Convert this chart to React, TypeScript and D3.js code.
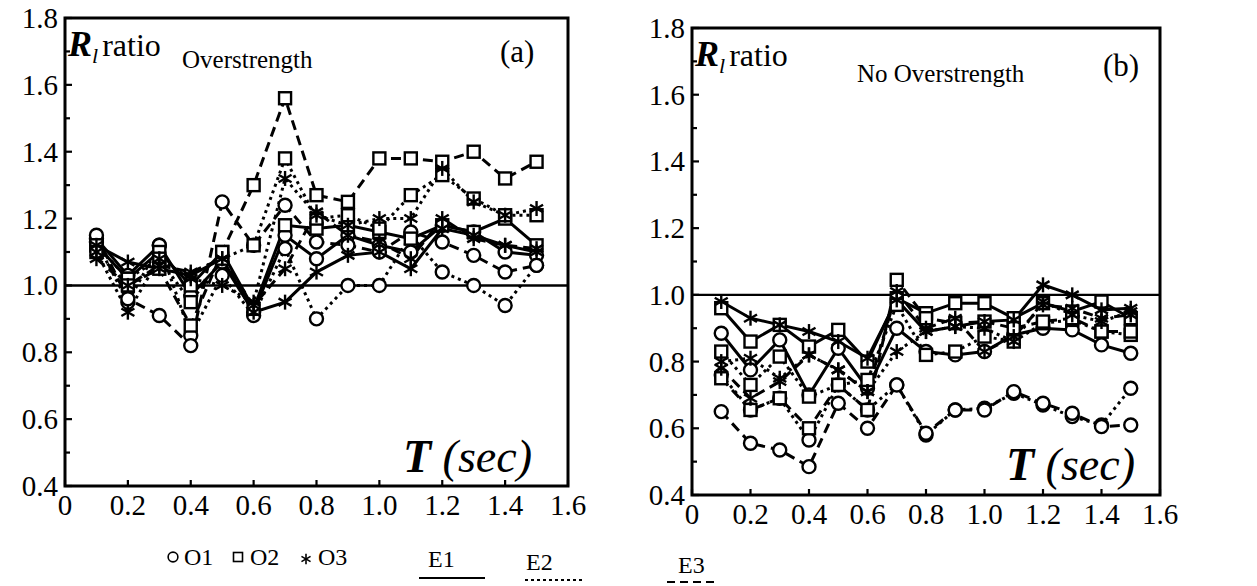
import React from "react";
import * as d3 from "d3";

// periods T (sec) of every series
const periods = [0.1, 0.2, 0.3, 0.4, 0.5, 0.6, 0.7, 0.8, 0.9, 1.0, 1.1, 1.2, 1.3, 1.4, 1.5];
const yTickValues = [0.4, 0.6, 0.8, 1.0, 1.2, 1.4, 1.6, 1.8];
const yMinorValues = [0.5, 0.7, 0.9, 1.1, 1.3, 1.5, 1.7];
const xTickValues = [0, 0.2, 0.4, 0.6, 0.8, 1.0, 1.2, 1.4, 1.6];
const xTickLabels = ["0", "0.2", "0.4", "0.6", "0.8", "1.0", "1.2", "1.4", "1.6"];
const yTickLabels = ["0.4", "0.6", "0.8", "1.0", "1.2", "1.4", "1.6", "1.8"];

// panel (a) Overstrength
const aO1E1 = [1.14, 1.03, 1.12, 0.97, 1.07, 0.92, 1.15, 1.08, 1.15, 1.12, 1.1, 1.18, 1.16, 1.1, 1.09];
const aO1E2 = [1.13, 0.95, 1.12, 0.85, 1.03, 0.91, 1.11, 0.9, 1.0, 1.0, 1.15, 1.04, 1.0, 0.94, 1.06];
const aO1E3 = [1.15, 0.96, 0.91, 0.82, 1.25, 1.12, 1.24, 1.13, 1.12, 1.1, 1.16, 1.13, 1.09, 1.04, 1.06];
const aO2E1 = [1.12, 1.02, 1.1, 1.0, 1.1, 0.93, 1.18, 1.17, 1.18, 1.16, 1.14, 1.18, 1.16, 1.2, 1.12];
const aO2E2 = [1.12, 1.02, 1.08, 0.95, 1.08, 1.12, 1.38, 1.2, 1.21, 1.17, 1.27, 1.33, 1.26, 1.21, 1.21];
const aO2E3 = [1.1, 1.0, 1.05, 0.88, 1.1, 1.3, 1.56, 1.27, 1.25, 1.38, 1.38, 1.37, 1.4, 1.32, 1.37];
const aO3E1 = [1.12, 1.07, 1.05, 1.03, 1.08, 0.92, 0.95, 1.04, 1.09, 1.1, 1.05, 1.17, 1.15, 1.12, 1.1];
const aO3E2 = [1.1, 0.92, 1.08, 1.02, 1.0, 0.95, 1.32, 1.21, 1.18, 1.2, 1.2, 1.35, 1.25, 1.21, 1.23];
const aO3E3 = [1.08, 1.0, 1.06, 1.04, 1.08, 0.94, 1.05, 1.22, 1.15, 1.13, 1.08, 1.2, 1.14, 1.12, 1.11];

// panel (b) No Overstrength
const bO1E1 = [0.885, 0.775, 0.865, 0.7, 0.84, 0.72, 0.9, 0.83, 0.82, 0.83, 0.88, 0.9, 0.895, 0.85, 0.825];
const bO1E2 = [0.76, 0.655, 0.69, 0.565, 0.73, 0.655, 0.73, 0.58, 0.655, 0.66, 0.705, 0.67, 0.635, 0.61, 0.72];
const bO1E3 = [0.65, 0.555, 0.535, 0.485, 0.675, 0.6, 0.73, 0.585, 0.655, 0.655, 0.71, 0.675, 0.645, 0.605, 0.61];
const bO2E1 = [0.96, 0.86, 0.91, 0.845, 0.895, 0.8, 0.99, 0.945, 0.975, 0.975, 0.93, 0.975, 0.95, 0.98, 0.93];
const bO2E2 = [0.83, 0.73, 0.815, 0.695, 0.73, 0.745, 0.97, 0.82, 0.83, 0.875, 0.86, 0.915, 0.925, 0.89, 0.88];
const bO2E3 = [0.75, 0.655, 0.69, 0.6, 0.73, 0.655, 1.045, 0.93, 0.915, 0.92, 0.9, 0.92, 0.93, 0.89, 0.89];
const bO3E1 = [0.98, 0.93, 0.91, 0.89, 0.86, 0.81, 0.985, 0.89, 0.905, 0.92, 0.925, 1.03, 1.0, 0.955, 0.96];
const bO3E2 = [0.8, 0.81, 0.75, 0.82, 0.775, 0.71, 0.83, 0.89, 0.905, 0.9, 0.86, 0.98, 0.94, 0.92, 0.95];
const bO3E3 = [0.78, 0.69, 0.74, 0.82, 0.775, 0.71, 1.01, 0.9, 0.93, 0.83, 0.875, 0.97, 0.96, 0.93, 0.94];

const serif = "'Liberation Serif', 'DejaVu Serif', serif";

const dashFor = { E1: "none", E2: "3,4", E3: "10,6" };

const buildSeries = (rows) =>
  rows.map(([marker, kind, values]) => ({ marker, kind, values }));

const seriesA = buildSeries([
  ["O1", "E1", aO1E1], ["O1", "E2", aO1E2], ["O1", "E3", aO1E3],
  ["O2", "E1", aO2E1], ["O2", "E2", aO2E2], ["O2", "E3", aO2E3],
  ["O3", "E1", aO3E1], ["O3", "E2", aO3E2], ["O3", "E3", aO3E3],
]);
const seriesB = buildSeries([
  ["O1", "E1", bO1E1], ["O1", "E2", bO1E2], ["O1", "E3", bO1E3],
  ["O2", "E1", bO2E1], ["O2", "E2", bO2E2], ["O2", "E3", bO2E3],
  ["O3", "E1", bO3E1], ["O3", "E2", bO3E2], ["O3", "E3", bO3E3],
]);

const Marker = ({ type, x, y, size = 1, sw = 2.4 }) => {
  if (type === "O1") {
    return <circle cx={x} cy={y} r={6.5 * size} fill="#fff" stroke="#000" strokeWidth={sw} />;
  }
  if (type === "O2") {
    const s = 12 * size;
    return <rect x={x - s / 2} y={y - s / 2} width={s} height={s} fill="#fff" stroke="#000" strokeWidth={sw} />;
  }
  const r = 7.5 * size;
  const c = r * Math.cos(Math.PI / 6);
  const h = r * Math.sin(Math.PI / 6);
  return (
    <g stroke="#000" strokeWidth={sw}>
      <line x1={x} y1={y - r} x2={x} y2={y + r} />
      <line x1={x - c} y1={y - h} x2={x + c} y2={y + h} />
      <line x1={x - c} y1={y + h} x2={x + c} y2={y - h} />
    </g>
  );
};

const Panel = ({ left, right, top, bottom, series, title, titleX, titleY, tag, tagX, tagY, rY, tX, tY }) => {
  const x = d3.scaleLinear().domain([0, 1.6]).range([left, right]);
  const y = d3.scaleLinear().domain([0.4, 1.8]).range([bottom, top]);
  const line = d3
    .line()
    .x((d) => x(d[0]))
    .y((d) => y(d[1]));

  return (
    <g>
      {/* frame */}
      <rect x={left} y={top} width={right - left} height={bottom - top} fill="none" stroke="#000" strokeWidth={3} />
      {/* unity line */}
      <line x1={left} x2={right} y1={y(1.0)} y2={y(1.0)} stroke="#000" strokeWidth={2.4} />

      {yTickValues.map((v) => (
        <line key={"yt" + v} x1={left} x2={left + 7} y1={y(v)} y2={y(v)} stroke="#000" strokeWidth={2.2} />
      ))}
      {yMinorValues.map((v) => (
        <line key={"ym" + v} x1={left} x2={left + 5} y1={y(v)} y2={y(v)} stroke="#000" strokeWidth={2.2} />
      ))}
      {yTickValues.map((v, i) => (
        <text key={"yl" + v} x={left - 7} y={y(v) + 10} textAnchor="end" fontFamily={serif} fontSize={29}>
          {yTickLabels[i]}
        </text>
      ))}
      {xTickValues.map((v) => (
        <line key={"xt" + v} x1={x(v)} x2={x(v)} y1={bottom} y2={bottom - 6} stroke="#000" strokeWidth={2.2} />
      ))}
      {xTickValues.map((v, i) => (
        <text key={"xl" + v} x={x(v)} y={bottom + 29} textAnchor="middle" fontFamily={serif} fontSize={29}>
          {xTickLabels[i]}
        </text>
      ))}

      {/* series lines */}
      {series.map((s, i) => (
        <path
          key={"l" + i}
          d={line(periods.map((t, j) => [t, s.values[j]]))}
          fill="none"
          stroke="#000"
          strokeWidth={3}
          strokeDasharray={dashFor[s.kind]}
        />
      ))}
      {/* markers */}
      {series.map((s, i) =>
        periods.map((t, j) => <Marker key={"m" + i + "-" + j} type={s.marker} x={x(t)} y={y(s.values[j])} />)
      )}

      {/* labels */}
      <text x={left + 3} y={rY} fontFamily={serif} fontSize={32}>
        <tspan fontWeight="bold" fontStyle="italic" fontSize={36}>R</tspan>
        <tspan fontStyle="italic" fontSize={22} dy={7}>l</tspan>
        <tspan dy={-7} dx={4}>ratio</tspan>
      </text>
      <text x={titleX} y={titleY} fontFamily={serif} fontSize={25}>{title}</text>
      <text x={tagX} y={tagY} fontFamily={serif} fontSize={31}>{tag}</text>
      <text x={tX} y={tY} fontFamily={serif} fontSize={46} fontStyle="italic">
        <tspan fontWeight="bold">T</tspan> (sec)
      </text>
    </g>
  );
};

const App = () => {
  return (
    <svg
      width={1257}
      height={586}
      viewBox="0 0 1257 586"
      style={{ position: "absolute", left: 0, top: 0, background: "#fff" }}
    >
      <rect x={0} y={0} width={1257} height={586} fill="#fff" />
      <Panel
        left={65} right={568} top={18} bottom={486}
        series={seriesA}
        title="Overstrength" titleX={182} titleY={68}
        tag="(a)" tagX={500} tagY={62}
        rY={56} tX={403} tY={472}
      />
      <Panel
        left={692} right={1160} top={28} bottom={495}
        series={seriesB}
        title="No Overstrength" titleX={857} titleY={82}
        tag="(b)" tagX={1103} tagY={76}
        rY={66} tX={1006} tY={480}
      />

      {/* legend */}
      <g fontFamily={serif} fontSize={24}>
        <Marker type="O1" x={173} y={557} size={0.75} sw={1.6} />
        <text x={184} y={565}>O1</text>
        <Marker type="O2" x={238} y={557} size={0.75} sw={1.6} />
        <text x={250} y={565}>O2</text>
        <Marker type="O3" x={306} y={559} size={0.7} sw={1.6} />
        <text x={318} y={565}>O3</text>

        <text x={428} y={567}>E1</text>
        <line x1={419} x2={485} y1={578} y2={578} stroke="#000" strokeWidth={2} />
        <text x={526} y={570}>E2</text>
        <line x1={525} x2={584} y1={580} y2={580} stroke="#000" strokeWidth={2} strokeDasharray="3,3" />
        <text x={678} y={573}>E3</text>
        <line x1={667} x2={718} y1={582} y2={582} stroke="#000" strokeWidth={2} strokeDasharray="8,5" />
      </g>
    </svg>
  );
};

export default App;
